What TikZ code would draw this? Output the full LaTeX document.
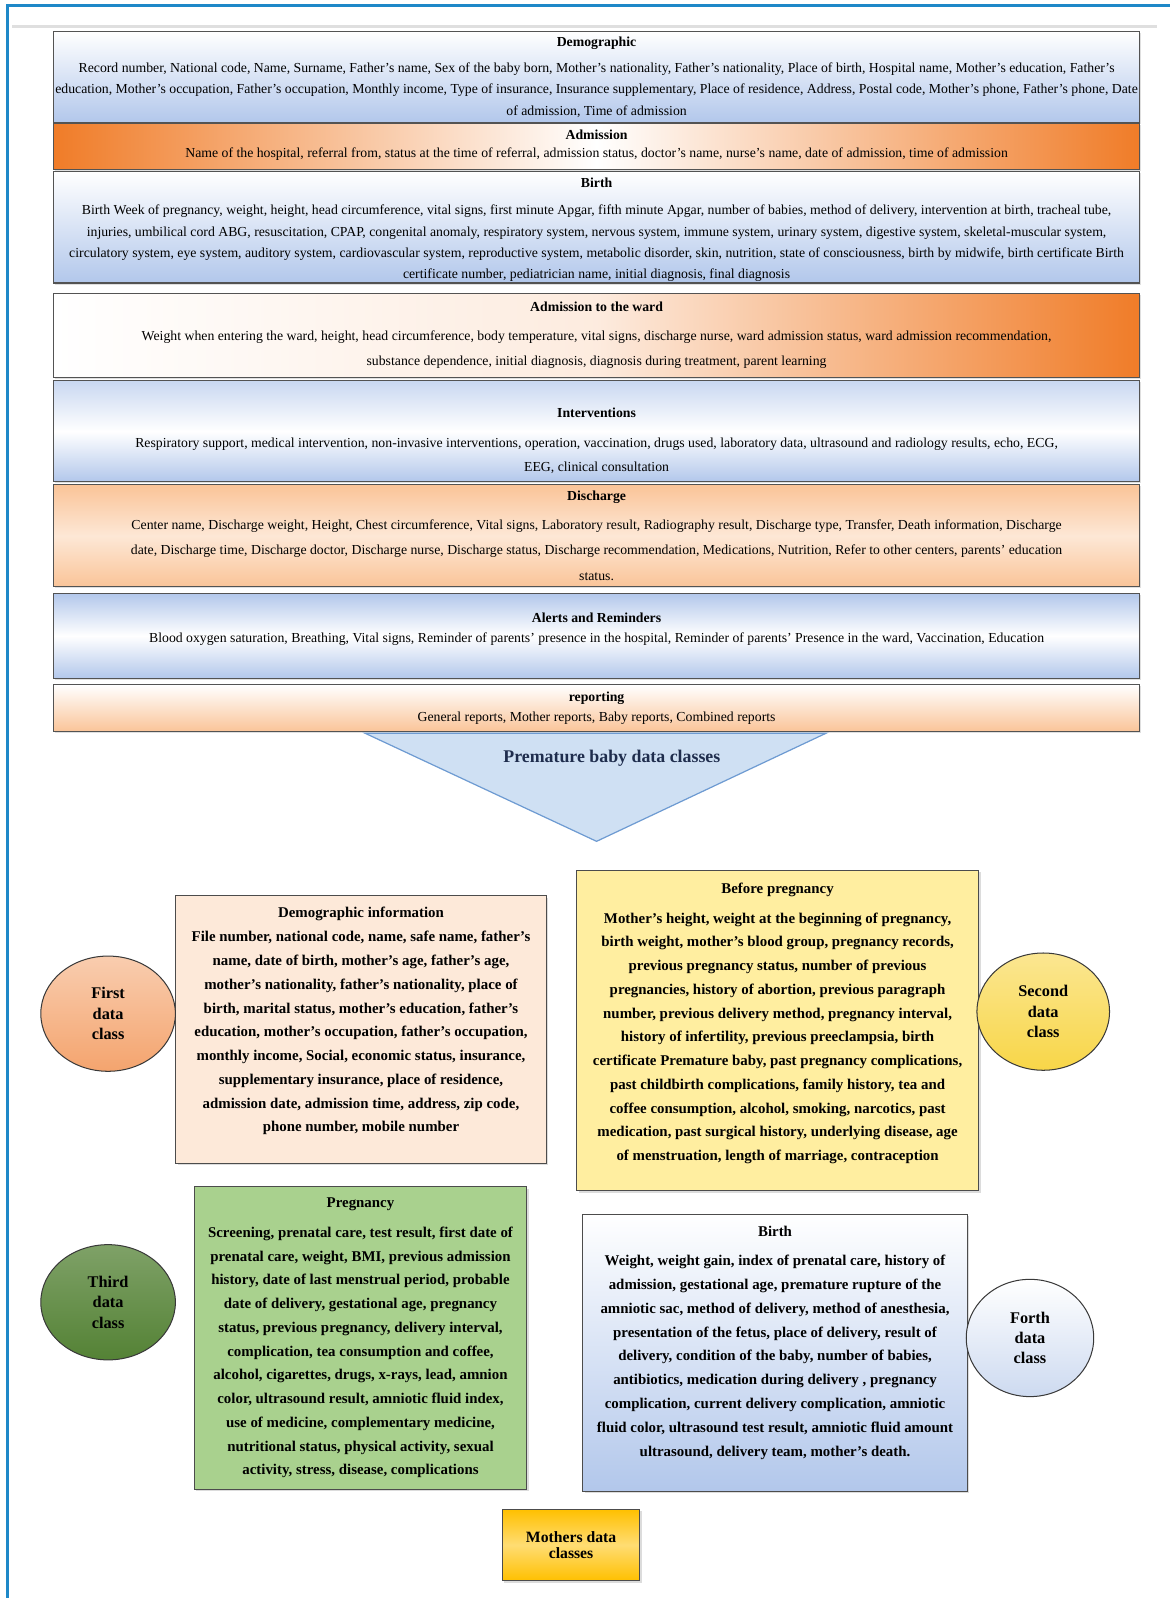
\documentclass[tikz,border=0pt]{standalone}
\usepackage{fontspec}
\setmainfont{Liberation Serif}
\usetikzlibrary{shapes.geometric,shadows}

\definecolor{frameblue}{RGB}{30,136,200}
\definecolor{bandblue}{RGB}{178,199,235}
\definecolor{bandorange}{RGB}{240,124,40}
\definecolor{bandpeach}{RGB}{250,196,152}
\definecolor{demoinfo}{RGB}{253,233,217}
\definecolor{beforepreg}{RGB}{255,238,160}
\definecolor{pregfill}{RGB}{169,209,142}
\definecolor{classone}{RGB}{244,164,110}
\definecolor{classtwo}{RGB}{248,214,72}
\definecolor{classthree}{RGB}{84,130,53}
\definecolor{classfour}{RGB}{205,218,240}
\definecolor{mothersfill}{RGB}{255,192,0}
\definecolor{trifill}{RGB}{207,224,243}
\definecolor{tridraw}{RGB}{110,155,210}
\definecolor{trinavy}{RGB}{31,45,77}

\tikzset{
  band/.style={draw=gray!65!black, line width=1pt, anchor=north west,
    minimum width=1065pt, minimum height=#1, inner sep=0pt, align=center,
    font=\fontsize{13.5}{21}\selectfont,
    drop shadow={shadow xshift=1.5pt,shadow yshift=-1.5pt,fill=gray!50}},
  classbox/.style={draw=gray!60!black, line width=1pt, anchor=north west,
    inner sep=0pt, align=center, font=\bfseries\fontsize{14.6}{23.3}\selectfont,
    drop shadow={shadow xshift=2pt,shadow yshift=-2pt,fill=gray!55}},
  classball/.style={ellipse, draw=gray!45!black, line width=1pt, inner sep=0pt,
    align=center, font=\bfseries\fontsize{16}{20}\selectfont},
}

\begin{document}
\begin{tikzpicture}[x=1pt,y=-1pt]
  \useasboundingbox (0,0) rectangle (1147,1567);
  \draw[frameblue, line width=3pt] (7,1567) -- (7,5) -- (1147,5);
  \draw[gray!25, line width=2pt] (12,26) -- (1135,26);

  % baby data bands
  \node[band=90pt, top color=white, bottom color=bandblue] (demo) at (52,30)
    {\textbf{Demographic}\\[5pt]
     Record number, National code, Name, Surname, Father's name, Sex of the baby born, Mother's nationality, Father's nationality, Place of birth, Hospital name, Mother's education, Father's\\
     education, Mother's occupation, Father's occupation, Monthly income, Type of insurance, Insurance supplementary, Place of residence, Address, Postal code, Mother's phone, Father's phone, Date\\
     of admission, Time of admission};
  \node[band=45pt, left color=bandorange, right color=bandorange, middle color=white] (adm) at (52,121)
    {\textbf{Admission}\\[-4pt]
     Name of the hospital, referral from, status at the time of referral, admission status, doctor's name, nurse's name, date of admission, time of admission\\[-15pt]};
  \node[band=109pt, top color=white, bottom color=bandblue] (birth) at (52,168)
    {\rule{0pt}{14pt}\textbf{Birth}\\[6pt]
     Birth Week of pregnancy, weight, height, head circumference, vital signs, first minute Apgar, fifth minute Apgar, number of babies, method of delivery, intervention at birth, tracheal tube,\\
     injuries, umbilical cord ABG, resuscitation, CPAP, congenital anomaly, respiratory system, nervous system, immune system, urinary system, digestive system, skeletal-muscular system,\\
     circulatory system, eye system, auditory system, cardiovascular system, reproductive system, metabolic disorder, skin, nutrition, state of consciousness, birth by midwife, birth certificate Birth\\
     certificate number, pediatrician name, initial diagnosis, final diagnosis};
  \node[band=83pt, left color=white, right color=bandorange, middle color=white!85!bandorange] (ward) at (52,287)
    {\textbf{Admission to the ward}\\[7pt]
     Weight when entering the ward, height, head circumference, body temperature, vital signs, discharge nurse, ward admission status, ward admission recommendation,\\[4pt]
     substance dependence, initial diagnosis, diagnosis during treatment, parent learning};
  \node[band=99pt, top color=bandblue!70, bottom color=bandblue, middle color=white] (interv) at (52,373)
    {\rule{0pt}{28pt}\textbf{Interventions}\\[8pt]
     Respiratory support, medical intervention, non-invasive interventions, operation, vaccination, drugs used, laboratory data, ultrasound and radiology results, echo, ECG,\\[3pt]
     EEG, clinical consultation};
  \node[band=100pt, top color=bandpeach, bottom color=bandpeach, middle color=bandpeach!40] (disch) at (52,475)
    {\textbf{Discharge}\\[7pt]
     Center name, Discharge weight, Height, Chest circumference, Vital signs, Laboratory result, Radiography result, Discharge type, Transfer, Death information, Discharge\\[4pt]
     date, Discharge time, Discharge doctor, Discharge nurse, Discharge status, Discharge recommendation, Medications, Nutrition, Refer to other centers, parents' education\\[4pt]
     status.};
  \node[band=84pt, top color=bandblue, bottom color=bandblue, middle color=white] (alerts) at (52,581)
    {\textbf{Alerts and Reminders}\\[-2pt]
     Blood oxygen saturation, Breathing, Vital signs, Reminder of parents' presence in the hospital, Reminder of parents' Presence in the ward, Vaccination, Education\\[-5pt]};
  \node[band=46pt, top color=white, bottom color=bandpeach] (report) at (52,671)
    {\textbf{reporting}\\[-2pt]
     General reports, Mother reports, Baby reports, Combined reports};

  % funnel
  \coordinate (tl) at (358,719);
  \coordinate (tr) at (810,719);
  \coordinate (apex) at (585,825);
  \filldraw[fill=trifill, draw=tridraw, line width=1.2pt] (tl) -- (tr) -- (apex) -- cycle;
  \node[text=trinavy, font=\bfseries\fontsize{17.5}{20}\selectfont] (premature) at (600,744) {Premature baby data classes};

  % mother data boxes
  \node[classbox, fill=demoinfo, minimum width=363pt, minimum height=262pt] (demoinfo) at (172,878)
    {Demographic information\\
     File number, national code, name, safe name, father's\\
     name, date of birth, mother's age, father's age,\\
     mother's nationality, father's nationality, place of\\
     birth, marital status, mother's education, father's\\
     education, mother's occupation, father's occupation,\\
     monthly income, Social, economic status, insurance,\\
     supplementary insurance, place of residence,\\
     admission date, admission time, address, zip code,\\
     phone number, mobile number\\[-4pt]};
  \node[classbox, fill=beforepreg, minimum width=394pt, minimum height=314pt] (beforepreg) at (565,853)
    {Before pregnancy\\[6pt]
     Mother's height, weight at the beginning of pregnancy,\\
     birth weight, mother's blood group, pregnancy records,\\
     previous pregnancy status, number of previous\\
     pregnancies, history of abortion, previous paragraph\\
     number, previous delivery method, pregnancy interval,\\
     history of infertility, previous preeclampsia, birth\\
     certificate Premature baby, past pregnancy complications,\\
     past childbirth complications, family history, tea and\\
     coffee consumption, alcohol, smoking, narcotics, past\\
     medication, past surgical history, underlying disease, age\\
     of menstruation, length of marriage, contraception\\[-6pt]};
  \node[classbox, fill=pregfill, minimum width=326pt, minimum height=297pt] (preg) at (190,1163)
    {Pregnancy\\[6pt]
     Screening, prenatal care, test result, first date of\\
     prenatal care, weight, BMI, previous admission\\
     history, date of last menstrual period, probable\\
     date of delivery, gestational age, pregnancy\\
     status, previous pregnancy, delivery interval,\\
     complication, tea consumption and coffee,\\
     alcohol, cigarettes, drugs, x-rays, lead, amnion\\
     color, ultrasound result, amniotic fluid index,\\
     use of medicine, complementary medicine,\\
     nutritional status, physical activity, sexual\\
     activity, stress, disease, complications};
  \node[classbox, top color=white, bottom color=bandblue, minimum width=377pt, minimum height=272pt] (birthinfo) at (571,1190)
    {Birth\\[6pt]
     Weight, weight gain, index of prenatal care, history of\\
     admission, gestational age, premature rupture of the\\
     amniotic sac, method of delivery, method of anesthesia,\\
     presentation of the fetus, place of delivery, result of\\
     delivery, condition of the baby, number of babies,\\
     antibiotics, medication during delivery , pregnancy\\
     complication, current delivery complication, amniotic\\
     fluid color, ultrasound test result, amniotic fluid amount\\
     ultrasound, delivery team, mother's death.\\[0pt]};

  % data class labels
  \node[classball, top color=classone!55!white, bottom color=classone, minimum width=132pt, minimum height=113pt] (first) at (106,994) {First\\data\\class};
  \node[classball, top color=classtwo!60!white, bottom color=classtwo, minimum width=130pt, minimum height=115pt] (second) at (1023,992) {Second\\data\\class};
  \node[classball, top color=classthree!75!white, bottom color=classthree, minimum width=132pt, minimum height=113pt] (third) at (106,1277) {Third\\data\\class};
  \node[classball, top color=white, bottom color=classfour, minimum width=125pt, minimum height=115pt] (fourth) at (1010,1312) {Forth\\data\\class};

  \node[classbox, anchor=center, top color=mothersfill, bottom color=mothersfill, middle color=mothersfill!55!white,
        minimum width=135pt, minimum height=70pt, font=\bfseries\fontsize{15.4}{16}\selectfont] (mothers) at (560,1515)
    {Mothers data\\classes};
\end{tikzpicture}
\end{document}
